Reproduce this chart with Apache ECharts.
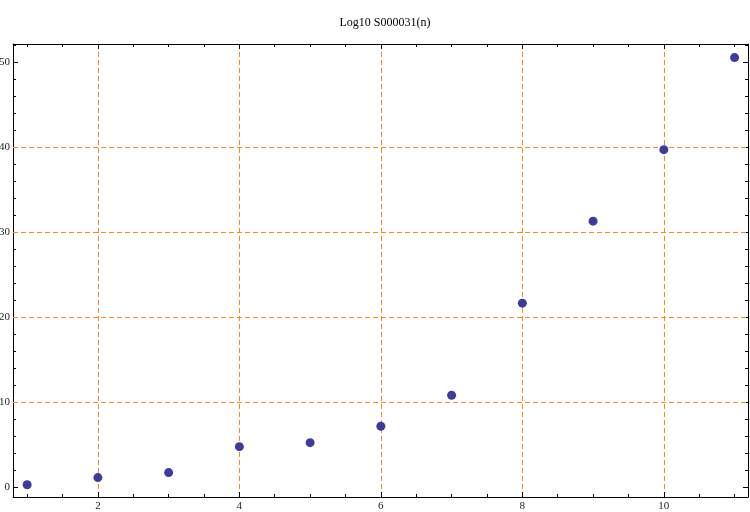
<!DOCTYPE html>
<html>
<head>
<meta charset="utf-8">
<script src="https://cdn.jsdelivr.net/npm/echarts@6/dist/echarts.min.js"></script>
<style>html,body{margin:0;padding:0;background:#fff;}#chart{width:750px;height:512px;}</style>
</head>
<body>
<div id="chart"></div>
<script>
const titleText = 'Log10 S000031(n)';
const nValues = [1, 2, 3, 4, 5, 6, 7, 8, 9, 10, 11];
const logValues = [0.3, 1.14, 1.73, 4.78, 5.25, 7.18, 10.82, 21.65, 31.29, 39.7, 50.52];
const gridLinesY = [10, 20, 30, 40];

const points = nValues.map((n, i) => [n, logValues[i]]);
const font = '"Liberation Serif", "Times New Roman", serif';
const gridColor = '#f98a12';
const xMin = 0.8, xMax = 11.19, yMin = -1.14, yMax = 52.12;

function xAx(pos, labels) {
  return {
    type: 'value', position: pos, min: xMin, max: xMax,
    minInterval: 2, maxInterval: 2,
    axisLine: { show: true, onZero: false, lineStyle: { color: '#000', width: 1 } },
    axisTick: { show: true, inside: true, length: 5, lineStyle: { color: '#000' } },
    minorTick: { show: true, splitNumber: 4, length: 3, lineStyle: { color: '#000' } },
    axisLabel: { show: labels, showMinLabel: false, showMaxLabel: false, margin: 4,
      fontFamily: font, fontSize: 11, color: '#222' },
    splitLine: { show: labels, lineStyle: { color: gridColor, type: [5, 3], width: 1 } }
  };
}
function yAx(pos, labels) {
  return {
    type: 'value', position: pos, min: yMin, max: yMax,
    minInterval: 10, maxInterval: 10,
    axisLine: { show: true, onZero: false, lineStyle: { color: '#000', width: 1 } },
    axisTick: { show: true, inside: true, length: 5, lineStyle: { color: '#000' } },
    minorTick: { show: true, splitNumber: 5, length: 3, lineStyle: { color: '#000' } },
    axisLabel: { show: labels, showMinLabel: false, showMaxLabel: false, margin: 3,
      fontFamily: font, fontSize: 11, color: '#222' },
    splitLine: { show: false }
  };
}

const chart = echarts.init(document.getElementById('chart'), null, { renderer: 'canvas' });
chart.setOption({
  animation: false,
  backgroundColor: '#fff',
  title: {
    text: titleText, left: 380, top: 12, textAlign: 'center',
    textStyle: { fontFamily: font, fontSize: 12, fontWeight: 'normal', color: '#000' }
  },
  grid: { left: 13, right: 2, top: 44, bottom: 15, containLabel: false, outerBoundsMode: 'none' },
  xAxis: [xAx('bottom', true), xAx('top', false)],
  yAxis: [yAx('left', true), yAx('right', false)],
  series: [{
    type: 'scatter', xAxisIndex: 0, yAxisIndex: 0,
    data: points, symbol: 'circle', symbolSize: 9, z: 3,
    itemStyle: { color: '#3c3c9c', opacity: 1 },
    markLine: {
      silent: true, symbol: 'none', animation: false, z: 1,
      label: { show: false },
      lineStyle: { color: gridColor, type: [5, 3], width: 1 },
      data: gridLinesY.map(v => ({ yAxis: v }))
    }
  }]
});
</script>
</body>
</html>
